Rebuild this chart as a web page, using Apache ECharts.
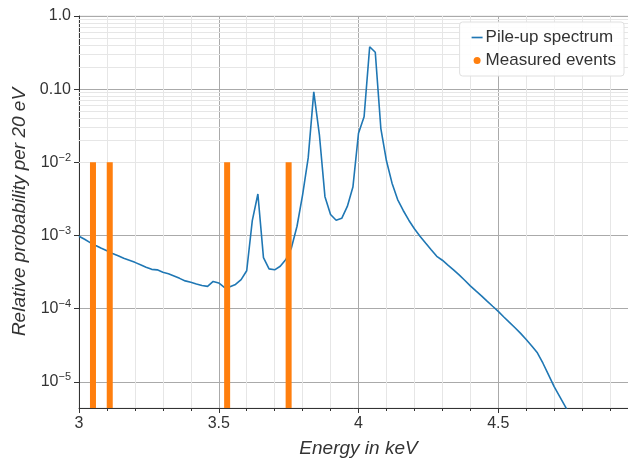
<!DOCTYPE html>
<html>
<head>
<meta charset="utf-8">
<script src="https://cdn.jsdelivr.net/npm/echarts@6/dist/echarts.min.js"></script>
<style>
html, body { margin: 0; padding: 0; background: #fff; }
#chart { width: 628px; height: 461px; }
</style>
</head>
<body>
<div id="chart"></div>
<script>
// pile-up spectrum, 20 eV bins
var energies = [
	3.00, 3.02, 3.04, 3.06, 3.08, 3.10, 3.12, 3.14, 3.16, 3.18,
	3.20, 3.22, 3.24, 3.26, 3.28, 3.30, 3.32, 3.34, 3.36, 3.38,
	3.40, 3.42, 3.44, 3.46, 3.48, 3.50, 3.52, 3.54, 3.56, 3.58,
	3.60, 3.62, 3.64, 3.66, 3.68, 3.70, 3.72, 3.74, 3.76, 3.78,
	3.80, 3.82, 3.84, 3.86, 3.88, 3.90, 3.92, 3.94, 3.96, 3.98,
	4.00, 4.02, 4.04, 4.06, 4.08, 4.10, 4.12, 4.14, 4.16, 4.18,
	4.20, 4.22, 4.24, 4.26, 4.28, 4.30, 4.32, 4.34, 4.36, 4.38,
	4.40, 4.42, 4.44, 4.46, 4.48, 4.50, 4.52, 4.54, 4.56, 4.58,
	4.60, 4.62, 4.64, 4.66, 4.68, 4.70, 4.72, 4.74, 4.76
];
var probabilities = [
	9.8e-4, 8.9e-4, 8.0e-4, 7.3e-4, 6.7e-4, 6.2e-4, 5.7e-4, 5.3e-4, 4.9e-4, 4.6e-4,
	4.3e-4, 4.0e-4, 3.7e-4, 3.45e-4, 3.4e-4, 3.15e-4, 3.0e-4, 2.8e-4, 2.6e-4, 2.4e-4,
	2.3e-4, 2.18e-4, 2.08e-4, 2.02e-4, 2.36e-4, 2.25e-4, 1.96e-4, 2.0e-4, 2.15e-4, 2.5e-4,
	3.3e-4, 1.6e-3, 3.7e-3, 5.0e-4, 3.5e-4, 3.4e-4, 3.8e-4, 4.7e-4, 6.8e-4, 1.34e-3,
	3.6e-3, 1.15e-2, 0.092, 0.024, 3.4e-3, 1.94e-3, 1.62e-3, 1.72e-3, 2.5e-3, 4.6e-3,
	0.025, 0.042, 0.38, 0.32, 0.029, 1.05e-2, 5.2e-3, 3.1e-3, 2.2e-3, 1.62e-3,
	1.24e-3, 9.8e-4, 7.9e-4, 6.4e-4, 5.2e-4, 4.6e-4, 3.95e-4, 3.4e-4, 2.9e-4, 2.45e-4,
	2.05e-4, 1.75e-4, 1.5e-4, 1.27e-4, 1.08e-4, 9.2e-5, 7.7e-5, 6.5e-5, 5.5e-5, 4.6e-5,
	3.8e-5, 3.1e-5, 2.5e-5, 1.8e-5, 1.25e-5, 8.6e-6, 6.3e-6, 4.6e-6, 3.3e-6
];
// measured events (drawn as bars up to 1e-2)
var eventEnergies = [3.05, 3.11, 3.53, 3.75];
var eventLevel = 0.01;

var yMin = 4.4e-6, yMax = 1.0;
var FONT = '"Liberation Sans", Arial, sans-serif';

var myChart = echarts.init(document.getElementById('chart'));

var spectrum = [];
for (var i = 0; i < energies.length; i++) {
	spectrum.push([energies[i], probabilities[i]]);
}
var events = [];
for (var j = 0; j < eventEnergies.length; j++) {
	events.push([eventEnergies[j], yMin]);
	events.push([eventEnergies[j], eventLevel]);
	events.push([eventEnergies[j], '-']);
}

// log minor grid (2..9 x 10^n) and the little ticks on the y axis
var minorLines = [];
for (var n = -6; n <= -1; n++) {
	for (var k = 2; k <= 9; k++) {
		var v = k * Math.pow(10, n);
		if (v <= yMin || v >= yMax) continue;
		minorLines.push({ yAxis: v });
		minorLines.push([
			{ coord: [2.989, v], lineStyle: { color: '#333', type: 'solid', width: 1 } },
			{ coord: [3, v] }
		]);
	}
}

function yLabel(v) {
	var e = Math.round(Math.log(v) / Math.LN10);
	if (e === 0) return '1.0';
	if (e === -1) return '0.10';
	return '{base|10}{sup|\u2212' + (-e) + '}';
}

var option = {
	animation: false,
	backgroundColor: '#fff',
	textStyle: { fontFamily: FONT },
	grid: {
		left: 79, top: 16, bottom: 53, right: -10,
		outerBoundsMode: 'none',
		containLabel: false,
		show: true, borderColor: '#e2e2e2', borderWidth: 1
	},
	legend: {
		data: [
			{ name: 'Pile-up spectrum', icon: 'path://M0,0H20V3H0Z' },
			{ name: 'Measured events', icon: 'circle' }
		],
		orient: 'vertical',
		right: 4, top: 22,
		itemWidth: 11, itemHeight: 7, itemGap: 6,
		backgroundColor: 'rgba(255,255,255,0.9)',
		borderColor: '#e0e0e0', borderWidth: 1, borderRadius: 3,
		padding: [7, 8, 7, 12],
		textStyle: { fontSize: 17, color: '#333', fontFamily: FONT, padding: [0, 0, 0, -2] }
	},
	xAxis: {
		type: 'value',
		min: 3, max: 5, interval: 0.5,
		name: 'Energy in keV',
		nameLocation: 'middle', nameGap: 31,
		nameTextStyle: { fontSize: 19, fontStyle: 'italic', color: '#333', fontFamily: FONT },
		axisLine: { show: true, onZero: false, lineStyle: { color: '#333', width: 1 } },
		axisTick: { show: true, length: 5, lineStyle: { color: '#333' } },
		minorTick: { show: true, splitNumber: 5, length: 3, lineStyle: { color: '#333' } },
		splitLine: { show: true, lineStyle: { color: '#aaa', width: 1 } },
		minorSplitLine: { show: true, lineStyle: { color: '#e6e6e6', width: 1 } },
		axisLabel: { fontSize: 16, color: '#333', margin: 8, showMaxLabel: false, fontFamily: FONT }
	},
	yAxis: {
		type: 'log', logBase: 10,
		min: yMin, max: yMax,
		name: 'Relative probability per 20 eV',
		nameLocation: 'middle', nameGap: 50,
		nameTextStyle: { fontSize: 19, fontStyle: 'italic', color: '#333', fontFamily: FONT },
		axisLine: { show: true, lineStyle: { color: '#333', width: 1 } },
		axisTick: { show: true, length: 5, lineStyle: { color: '#333' } },
		splitLine: { show: true, lineStyle: { color: '#aaa', width: 1 } },
		axisLabel: {
			formatter: yLabel, showMinLabel: false,
			fontSize: 16, color: '#333', margin: 8, fontFamily: FONT,
			rich: {
				base: { fontSize: 16, color: '#333', fontFamily: FONT },
				sup: { fontSize: 11, color: '#333', fontFamily: FONT, padding: [0, 0, 9, 0] }
			}
		}
	},
	series: [
		{
			type: 'line',
			data: [],
			clip: false,
			silent: true,
			z: 1,
			markLine: {
				silent: true,
				z: 1,
				symbol: ['none', 'none'],
				label: { show: false },
				animation: false,
				lineStyle: { color: '#e6e6e6', type: 'solid', width: 1 },
				data: minorLines
			}
		},
		{
			name: 'Pile-up spectrum',
			type: 'line',
			data: spectrum,
			showSymbol: false,
			clip: true,
			color: '#1f77b4',
			lineStyle: { color: '#1f77b4', width: 1.6 },
			z: 2
		},
		{
			name: 'Measured events',
			type: 'line',
			data: events,
			showSymbol: false,
			connectNulls: false,
			clip: true,
			color: '#ff7f0e',
			itemStyle: { color: '#ff7f0e' },
			lineStyle: { color: '#ff7f0e', width: 6, cap: 'butt' },
			z: 3
		}
	]
};
myChart.setOption(option);
</script>
</body>
</html>
